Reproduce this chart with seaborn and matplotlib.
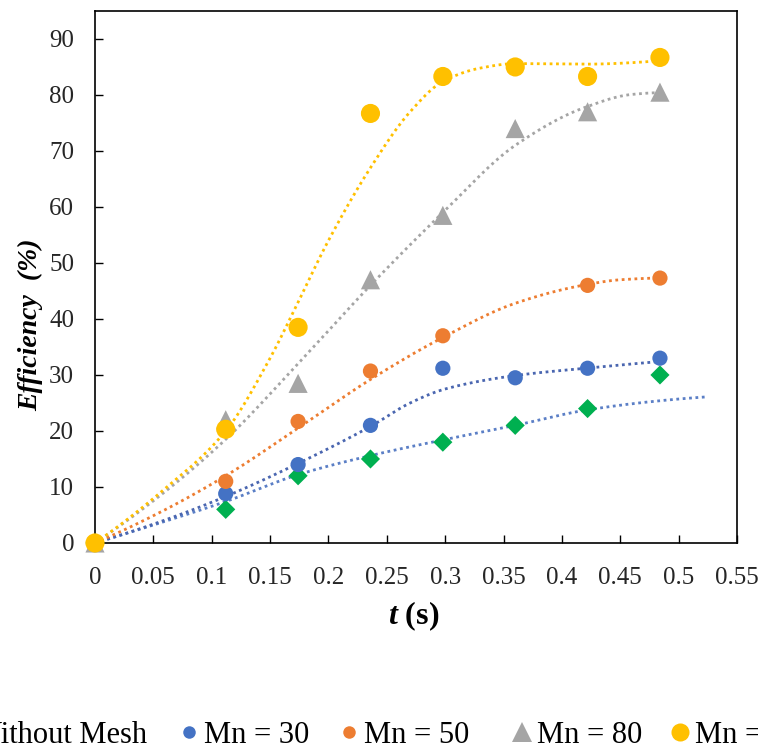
import numpy as np
import pandas as pd
import matplotlib
matplotlib.use("Agg")
import matplotlib.pyplot as plt
import seaborn as sns
from matplotlib.lines import Line2D
from matplotlib.ticker import FuncFormatter, MultipleLocator

# Measured efficiency over time for each mesh setting
t = [0, 0.112, 0.174, 0.236, 0.298, 0.360, 0.422, 0.484]
without_mesh = [0, 6, 12, 15, 18, 21, 24, 30]
mn30 = [0, 8.8, 14, 21, 31.2, 29.5, 31.2, 33]
t_mn50 = [0, 0.112, 0.174, 0.236, 0.298, 0.422, 0.484]
mn50 = [0, 11, 21.7, 30.7, 37, 46, 47.3]
mn80 = [0, 22, 28.5, 47, 58.5, 74, 77, 80.5]
mn100 = [0, 20.3, 38.5, 76.7, 83.3, 85, 83.3, 86.7]
labels = ["Without Mesh", "Mn = 30", "Mn = 50", "Mn = 80", "Mn = 100"]

# Trend curves (dotted), given as knots of each curve
trend_t_without = [0, 0.056, 0.112, 0.174, 0.236, 0.298, 0.36, 0.42, 0.484, 0.525]
trend_without = [0, 3.6, 7.4, 12.2, 15.6, 18.4, 21.0, 23.7, 25.4, 26.1]
trend_t_mn30 = [0, 0.056, 0.112, 0.174, 0.236, 0.27, 0.30, 0.36, 0.42, 0.484]
trend_mn30 = [0, 3.8, 8.3, 14.2, 20.8, 25.0, 27.5, 29.9, 31.2, 32.4]
trend_t_mn50 = [0, 0.056, 0.112, 0.174, 0.236, 0.298, 0.36, 0.42, 0.45, 0.484]
trend_mn50 = [0, 5.5, 12, 20.5, 29.2, 36.7, 42.8, 46.1, 47.0, 47.3]
trend_t_mn80 = [0, 0.056, 0.112, 0.174, 0.236, 0.298, 0.36, 0.42, 0.46, 0.484]
trend_mn80 = [0, 8.5, 18.5, 32, 46, 59, 71, 77.8, 80.1, 80.4]
trend_t_mn100 = [0, 0.056, 0.112, 0.15, 0.174, 0.2, 0.236, 0.27, 0.298, 0.33, 0.36, 0.42, 0.484]
trend_mn100 = [0, 9, 20, 33, 43, 54, 67, 77, 82.4, 84.8, 85.6, 85.5, 86.1]


def smooth_curve(xk, yk, n=300):
    """Shape-preserving cubic (PCHIP) rendering of a curve given by knots."""
    xk = np.asarray(xk, float)
    yk = np.asarray(yk, float)
    h = np.diff(xk)
    delta = np.diff(yk) / h
    m = len(xk)
    d = np.zeros(m)
    for k in range(1, m - 1):
        if delta[k - 1] * delta[k] > 0:
            w1 = 2 * h[k] + h[k - 1]
            w2 = h[k] + 2 * h[k - 1]
            d[k] = (w1 + w2) / (w1 / delta[k - 1] + w2 / delta[k])
    d[0] = ((2 * h[0] + h[1]) * delta[0] - h[0] * delta[1]) / (h[0] + h[1])
    if np.sign(d[0]) != np.sign(delta[0]):
        d[0] = 0
    d[-1] = ((2 * h[-1] + h[-2]) * delta[-1] - h[-1] * delta[-2]) / (h[-1] + h[-2])
    if np.sign(d[-1]) != np.sign(delta[-1]):
        d[-1] = 0
    xs = np.linspace(xk[0], xk[-1], n)
    idx = np.clip(np.searchsorted(xk, xs) - 1, 0, m - 2)
    s = (xs - xk[idx]) / h[idx]
    h00 = 2 * s**3 - 3 * s**2 + 1
    h10 = s**3 - 2 * s**2 + s
    h01 = -2 * s**3 + 3 * s**2
    h11 = s**3 - s**2
    ys = h00 * yk[idx] + h10 * h[idx] * d[idx] + h01 * yk[idx + 1] + h11 * h[idx] * d[idx + 1]
    return xs, ys


sns.set_theme(style="white")
plt.rcParams["font.family"] = ["Liberation Serif", "DejaVu Serif"]
plt.rcParams["mathtext.fontset"] = "custom"
plt.rcParams["mathtext.rm"] = "Liberation Serif:bold"
plt.rcParams["mathtext.bfit"] = "Liberation Serif:italic:bold"

fig = plt.figure(figsize=(7.58, 7.51), dpi=100)
ax = fig.add_axes([0.1253, 0.2770, 0.8470, 0.7084])

# (times, values, colour, marker, marker area, trend knots, trend colour)
series = [
    (t, without_mesh, "#00B050", "D", 95, trend_t_without, trend_without, "#5B7FC6"),
    (t, mn30, "#4472C4", "o", 120, trend_t_mn30, trend_mn30, "#4A66B0"),
    (t_mn50, mn50, "#ED7D31", "o", 120, trend_t_mn50, trend_mn50, "#ED7D31"),
    (t, mn80, "#A5A5A5", "^", 190, trend_t_mn80, trend_mn80, "#A5A5A5"),
    (t, mn100, "#FFC000", "o", 190, trend_t_mn100, trend_mn100, "#FFC000"),
]

# dotted trend curves first, markers on top
for x, y, col, mk, s, tk, tv, tcol in series:
    xs, ys = smooth_curve(tk, tv)
    trend = pd.DataFrame({"t": xs, "eff": ys})
    sns.lineplot(data=trend, x="t", y="eff", ax=ax, color=tcol, lw=2.0,
                 linestyle=(0, (1, 1.3)), zorder=2)

for x, y, col, mk, s, tk, tv, tcol in series:
    df = pd.DataFrame({"t": x, "eff": y})
    sns.scatterplot(data=df, x="t", y="eff", ax=ax, color=col, marker=mk,
                    s=s, edgecolor="none", zorder=3, clip_on=False)

ax.set_xlim(0, 0.55)
ax.set_ylim(0, 95)
ax.xaxis.set_major_locator(MultipleLocator(0.05))
ax.xaxis.set_major_formatter(FuncFormatter(lambda v, p: f"{v:g}"))
ax.set_yticks(np.arange(0, 100, 10))
ax.tick_params(axis="both", direction="in", length=6, width=1, labelsize=18,
               labelcolor="#262626", color="black", bottom=True, left=True)
ax.tick_params(axis="x", pad=17)
ax.tick_params(axis="y", pad=15)
for sp in ax.spines.values():
    sp.set_color("black")
    sp.set_linewidth(1.2)

ax.set_ylabel("Efficiency  (%)", fontsize=20, fontweight="bold",
              fontstyle="italic", color="black")
ax.yaxis.set_label_coords(-0.081, 0.41)
ax.set_xlabel(r"$\mathbfit{t}$ (s)", fontsize=23, fontweight="bold", color="black")
ax.xaxis.set_label_coords(0.497, -0.107)

# legend row along the bottom, one entry per series
marker_sizes = [10, 9, 9, 14, 13]
entry_centres = [-42, 189, 349, 522, 680]
W = 758.0
half_handle = 0.6 * 22 * 100 / 72 / 2
for srs, ms, cx, lab in zip(series, marker_sizes, entry_centres, labels):
    h = Line2D([], [], ls="none", marker=srs[3], color=srs[2], markersize=ms,
               markeredgewidth=0)
    fig.legend([h], [lab], loc="center left",
               bbox_to_anchor=((cx - half_handle) / W, 0.021),
               frameon=False, fontsize=22, handlelength=0.6, handletextpad=0.2,
               borderpad=0, borderaxespad=0, labelcolor="black")

fig.savefig("out.png", dpi=100)
